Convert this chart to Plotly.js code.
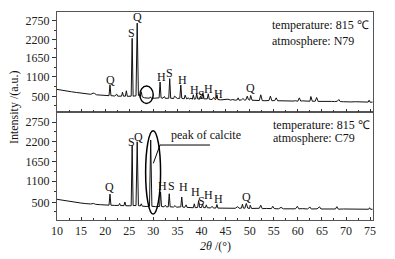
<!DOCTYPE html>
<html>
<head>
<meta charset="utf-8">
<script src="https://cdn.plot.ly/plotly-3.0.1.min.js"></script>
<style>html,body{margin:0;padding:0;background:#fff;}#chart{width:395px;height:259px;}</style>
</head>
<body>
<div id="chart"></div>
<script>
// 2θ values and intensities
const thetaN79 = [10,11,12,13,14,15,16,17,17.5,17.8,18.2,19,20,20.8,21.0,21.2,22,22.4,22.6,22.8,23.4,23.6,23.8,24.2,24.4,24.6,25.4,25.6,25.8,26.4,26.65,26.9,27.3,27.5,27.7,28.2,29.2,29.4,29.6,30.3,31.2,31.4,31.6,32.0,32.3,32.5,33.2,33.4,33.6,34.2,34.4,35.0,35.5,35.7,35.9,36.4,36.6,36.9,37.3,37.5,37.8,38.1,38.3,38.5,38.8,39.0,39.2,39.6,39.8,40.0,40.3,40.5,40.8,41.2,41.4,41.6,42.2,42.5,42.8,43.0,43.2,43.4,44.0,45.0,45.5,46.0,46.5,47.0,47.4,47.6,47.8,48.3,48.6,49.0,49.2,49.5,49.7,50.0,50.2,50.5,51.0,51.5,52.0,52.3,52.6,53.0,54.0,54.3,54.6,55.2,55.5,55.8,56.5,57.0,57.5,58.0,59.0,59.5,60.0,60.3,60.6,61.0,61.5,62.0,62.5,62.7,63.0,63.6,63.9,64.2,65.0,66.0,67.0,67.6,68.2,68.5,68.8,69.5,70.0,71.0,72.0,73.0,74.0,74.6,74.8,75.0,75.5];
const intensityN79 = [720,690,670,650,630,610,590,575,610,600,560,550,540,535,860,535,525,580,520,515,520,640,520,520,680,515,520,2230,520,530,2680,540,520,650,500,470,460,500,455,460,470,940,470,460,510,455,460,1040,460,450,520,450,460,850,460,440,550,440,470,430,460,430,560,430,440,600,440,430,520,440,620,440,430,440,590,430,420,480,420,430,560,420,410,410,430,405,420,400,410,470,400,410,450,400,410,520,430,400,540,400,390,400,390,560,390,385,390,520,385,390,470,385,380,385,375,390,375,385,370,470,375,380,370,375,370,510,370,370,480,365,370,360,365,360,370,420,360,355,360,350,355,345,350,345,400,340,345];

const thetaC79 = [10,11,12,13,14,15,16,17,17.6,18,19,20,20.8,21.0,21.2,22,22.8,23.0,23.2,23.9,24.1,24.3,25.4,25.6,25.8,26.4,26.65,26.9,27.3,27.5,27.7,28.5,29.2,29.45,29.7,30.5,31.3,31.5,31.7,32.2,32.5,32.7,33.1,33.3,33.5,34.2,34.5,34.8,35.7,35.9,36.1,36.5,36.8,37.0,37.6,37.9,38.3,38.5,38.7,39.2,39.4,39.6,40.0,40.2,40.4,40.8,41.0,41.2,41.9,42.2,42.5,43.0,43.2,43.4,44,45,45.5,46,47,47.5,47.8,48.3,48.5,48.7,49.0,49.3,49.6,50.0,50.1,50.4,51,52,52.3,52.6,53.5,54.5,54.8,55.1,56.0,56.5,57,58,59.5,59.9,60.2,61,62.0,62.5,62.8,64.0,64.5,64.8,66,67,67.8,68.1,68.4,69.5,70.5,72,73,74,74.7,74.9,75.1,75.5];
const intensityC79 = [595,570,545,525,505,490,475,465,480,455,445,436,432,740,430,425,425,480,420,420,520,415,415,2100,420,420,2200,420,410,470,405,395,400,2250,400,390,395,800,395,385,430,385,385,750,385,380,420,375,385,660,380,370,440,370,375,360,360,470,360,370,560,370,365,470,365,360,440,360,355,400,350,355,450,350,350,345,360,345,345,390,345,350,460,350,345,480,350,340,430,340,340,345,430,335,340,335,400,335,330,370,330,335,330,400,330,335,325,380,325,330,385,325,325,330,325,390,320,325,320,322,318,320,318,360,316,318];

const yTickVals = [500,1100,1650,2200,2750];
const xTickVals = [10,15,20,25,30,35,40,45,50,55,60,65,70,75];

// phase labels: [2θ, intensity position, letter]
const labelsN79 = [[21.1,998,'Q'],[25.5,2380,'S'],[26.7,2871,'Q'],[31.6,1078,'H'],[33.4,1196,'S'],[36.0,998,'H'],[38.6,702,'H'],[40.0,554,'S'],[41.4,731,'H'],[43.6,583,'H'],[50.2,752,'Q']];
const labelsC79 = [[21.0,946,'Q'],[25.5,2201,'S'],[26.9,2323,'Q'],[32.0,980,'H'],[33.8,980,'S'],[36.2,950,'H'],[38.8,798,'H'],[39.9,547,'S'],[41.4,715,'H'],[43.6,603,'H'],[49.3,651,'Q']];

const FONT = '"Liberation Serif", "Times New Roman", serif';
const axisLine = '#555';

const traces = [
  {x: thetaC79, y: intensityC79, xaxis:'x', yaxis:'y', mode:'lines', line:{color:'#111', width:1}, hoverinfo:'skip'},
  {x: thetaN79, y: intensityN79, xaxis:'x2', yaxis:'y2', mode:'lines', line:{color:'#111', width:1}, hoverinfo:'skip'}
];

const xCommon = {
  range:[10,75.6], showline:true, linecolor:axisLine, linewidth:1, mirror:true,
  ticks:'inside', ticklen:3, tickcolor:'#333', tickmode:'array', tickvals:xTickVals,
  minor:{tickmode:'linear', tick0:12.5, dtick:5, ticks:'inside', ticklen:2, tickcolor:'#333'},
  showgrid:false, zeroline:false, tickfont:{family:FONT, size:12, color:'#222'}
};
const yCommon = {
  showline:true, linecolor:axisLine, linewidth:1, mirror:true,
  ticks:'outside', ticklen:4, tickcolor:'#333', tickmode:'array', tickvals:yTickVals,
  minor:{tickmode:'array', tickvals:[250,800,1375,1925,2475], ticks:'outside', ticklen:2, tickcolor:'#333'},
  showgrid:false, zeroline:false, tickfont:{family:FONT, size:12, color:'#222'}
};

const annotations = [];
labelsN79.forEach(l => annotations.push({x:l[0], y:l[1], xref:'x2', yref:'y2', text:l[2], showarrow:false, font:{family:FONT, size:12, color:'#111'}, xanchor:'center', yanchor:'middle'}));
labelsC79.forEach(l => annotations.push({x:l[0], y:l[1], xref:'x', yref:'y', text:l[2], showarrow:false, font:{family:FONT, size:12, color:'#111'}, xanchor:'center', yanchor:'middle'}));
annotations.push(
  {x:54.2, y:2626, xref:'x2', yref:'y2', text:'temperature: 815 ℃', showarrow:false, xanchor:'left', yanchor:'middle', font:{family:FONT, size:12, color:'#111'}},
  {x:54.2, y:2161, xref:'x2', yref:'y2', text:'atmosphere: N79', showarrow:false, xanchor:'left', yanchor:'middle', font:{family:FONT, size:12, color:'#111'}},
  {x:54.4, y:2666, xref:'x', yref:'y', text:'temperature: 815 ℃', showarrow:false, xanchor:'left', yanchor:'middle', font:{family:FONT, size:12, color:'#111'}},
  {x:54.4, y:2296, xref:'x', yref:'y', text:'atmosphere: C79', showarrow:false, xanchor:'left', yanchor:'middle', font:{family:FONT, size:12, color:'#111'}},
  {x:33.3, y:2380, xref:'x', yref:'y', text:'peak of calcite', showarrow:false, xanchor:'left', yanchor:'middle', font:{family:FONT, size:12, color:'#111'}},
  {x:0, y:0.543, xref:'paper', yref:'paper', xshift:-43, text:'Intensity /(a.u.)', textangle:-90, showarrow:false, xanchor:'center', yanchor:'middle', font:{family:FONT, size:12, color:'#111'}},
  {x:0.5, y:0, xref:'paper', yref:'paper', yshift:-26, text:'<i>2θ</i> /(°)', showarrow:false, xanchor:'center', yanchor:'middle', font:{family:FONT, size:12, color:'#111'}}
);

const shapes = [
  {type:'circle', xref:'x2', yref:'y2', x0:27.2, x1:29.97, y0:306, y1:818, line:{color:'#000', width:1.5}},
  {type:'circle', xref:'x', yref:'y', x0:28.4, x1:31.5, y0:185, y1:2507, line:{color:'#000', width:1.5}},
  {type:'line', xref:'x', yref:'y', x0:30.0, y0:1599, x1:31.38, y1:2109, line:{color:'#000', width:1}},
  {type:'line', xref:'x', yref:'y', x0:31.38, y0:2109, x1:41.76, y1:2109, line:{color:'#000', width:1}}
];

const layout = {
  width:395, height:259,
  margin:{l:57, r:22, t:12, b:39},
  paper_bgcolor:'#fff', plot_bgcolor:'#fff',
  showlegend:false,
  font:{family:FONT, size:12, color:'#111'},
  xaxis: Object.assign({}, xCommon, {anchor:'y', domain:[0,1], showticklabels:true}),
  yaxis: Object.assign({}, yCommon, {anchor:'x', domain:[0,0.519], range:[18,3029]}),
  xaxis2: Object.assign({}, xCommon, {anchor:'y2', domain:[0,1], showticklabels:false}),
  yaxis2: Object.assign({}, yCommon, {anchor:'x2', domain:[0.519,1], range:[50,3010]}),
  annotations: annotations,
  shapes: shapes
};

Plotly.newPlot('chart', traces, layout, {staticPlot:true, displayModeBar:false});
</script>
</body>
</html>
